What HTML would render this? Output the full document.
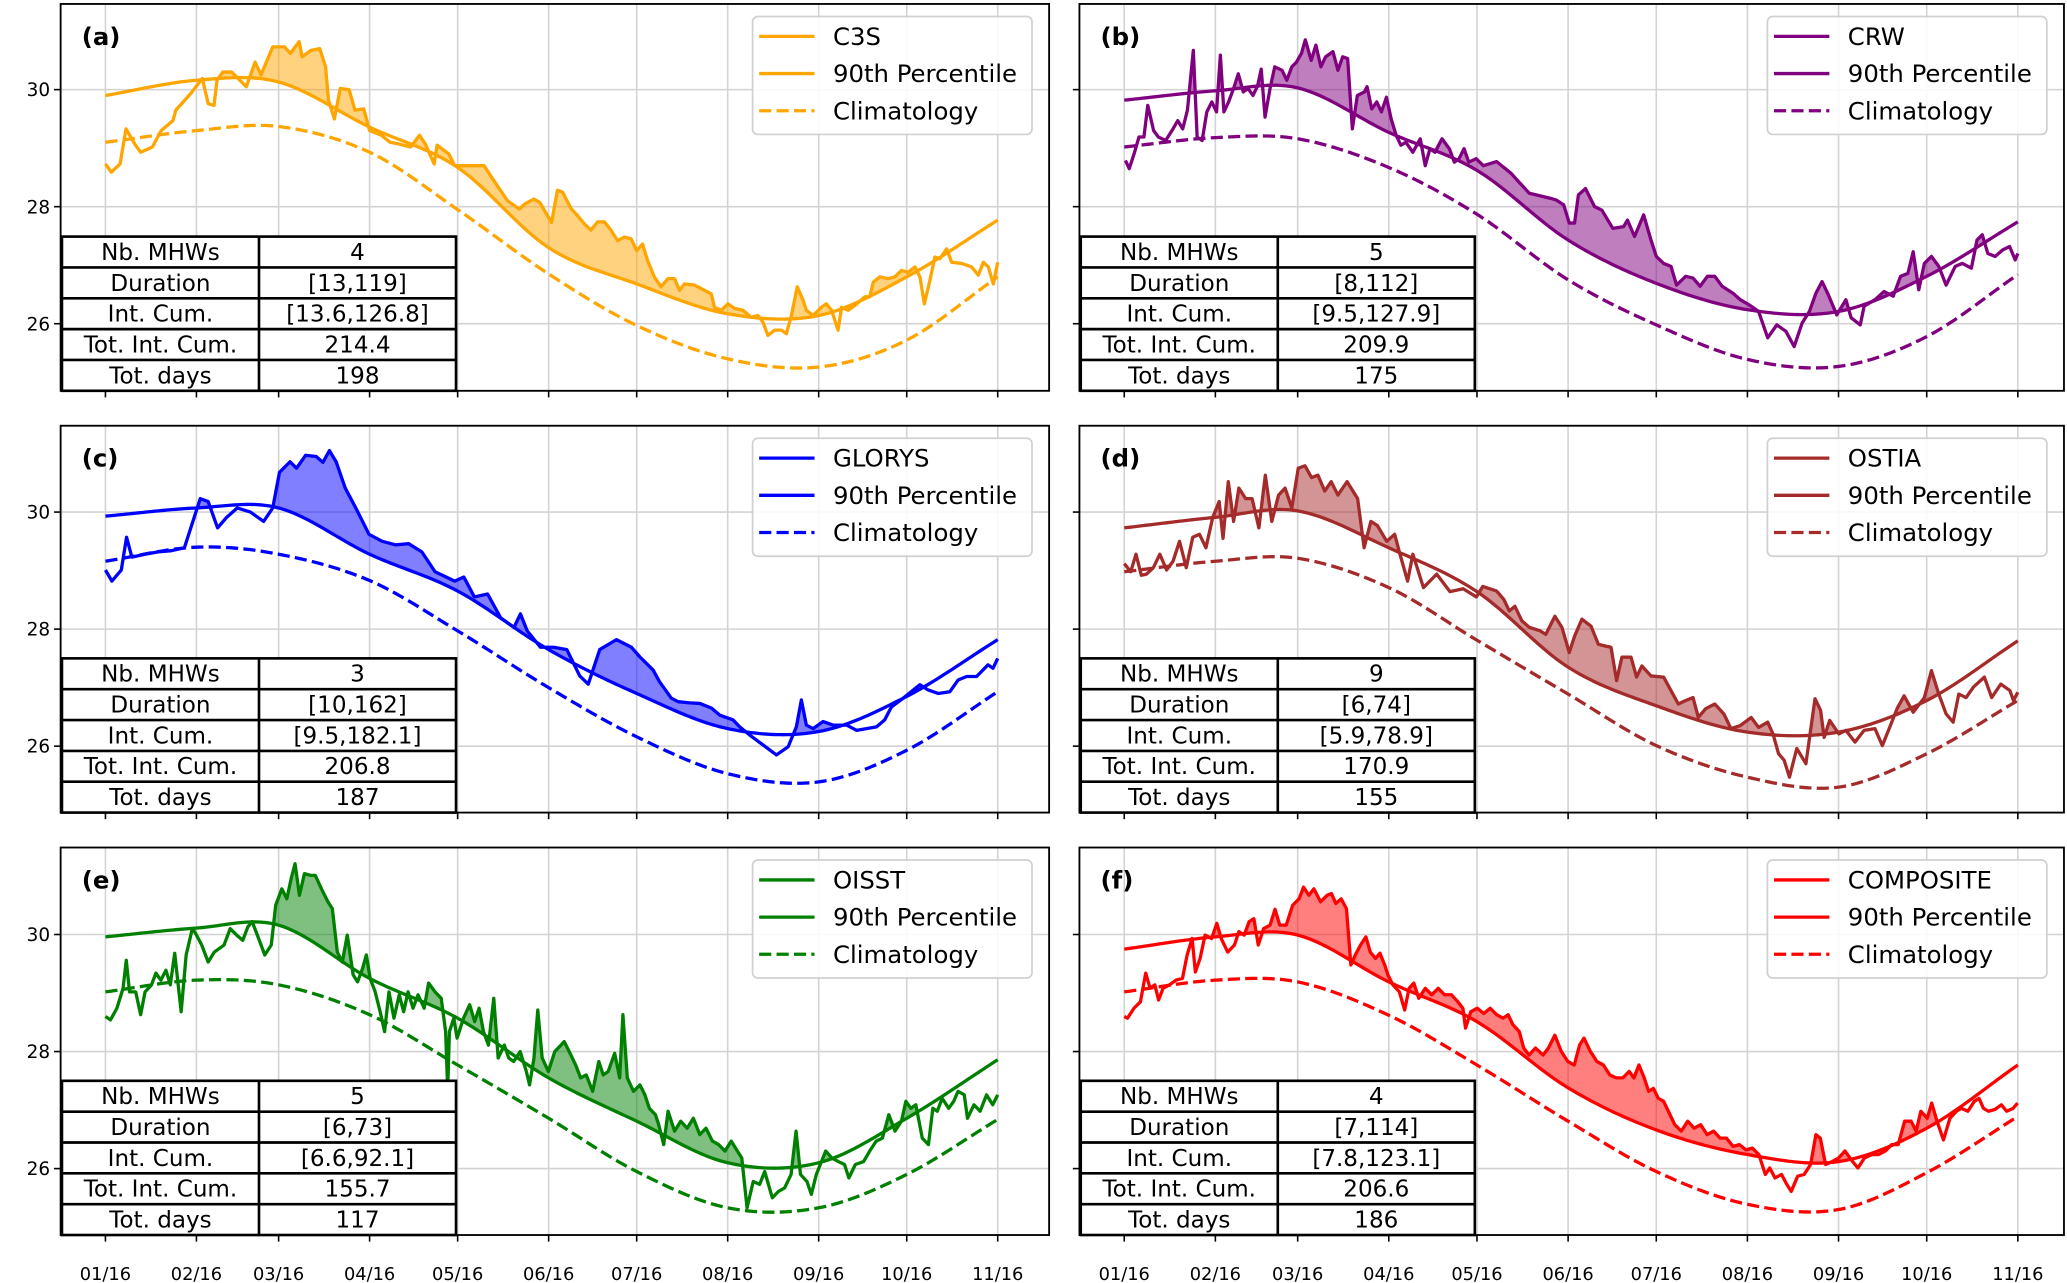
<!DOCTYPE html>
<html><head><meta charset="utf-8"><title>MHW panels</title>
<style>html,body{margin:0;padding:0;background:#fff;}svg{display:block;}text{font-family:"DejaVu Sans","Liberation Sans",sans-serif;}</style>
</head><body>
<svg id="chart" width="2067" height="1283" viewBox="0 0 1568.3 973.4" preserveAspectRatio="none" xmlns="http://www.w3.org/2000/svg"></svg>
<script>
const monthDays = [15,46,74,105,135,166,196,227,258,288,319];
const monthLabels = ['01/16','02/16','03/16','04/16','05/16','06/16','07/16','08/16','09/16','10/16','11/16'];
const yTickValues = [26,28,30];
const tableLabels = ['Nb. MHWs','Duration','Int. Cum.','Tot. Int. Cum.','Tot. days'];

const c3sDays = [15,17,20,22,25,27,31,34,38,39,44,48,50,52,53,55,58,63,66,68,72,76,78,81,82,85,88,90,91,93,95,98,100,103,105,109,112,115,119,122,124,127,128,132,134,138,144,147,152,156,158,161,163,167,169,170.7,173.6,175.8,178.1,180.4,182.7,185,187.2,189.5,191.8,194.1,196,198,199.7,202,204.3,206.6,208.9,210.6,212.3,215.7,219.1,221.4,222.5,224.8,227.1,229.4,232.2,235,237.3,239,240.7,243,245.3,247,248.7,250.7,252.7,253.8,256.1,258.9,260.6,262.4,264.6,265.8,268,270.3,273.7,275.4,276.6,278.8,281.7,283.9,286.2,288.5,290.8,292.5,294,295.9,297.6,299.3,301.6,303.3,306.7,310.1,312.4,314.1,315.8,317.5,319];
const c3sSST = [28.73,28.59,28.73,29.33,29.07,28.93,29.02,29.30,29.47,29.65,29.93,30.19,29.76,29.73,30.16,30.30,30.30,30.05,30.47,30.25,30.73,30.73,30.62,30.82,30.56,30.67,30.70,30.39,29.82,29.50,30.02,30.00,29.65,29.67,29.30,29.22,29.10,29.07,29.02,29.22,29.07,28.73,29.05,28.90,28.70,28.70,28.70,28.47,28.10,27.96,28.05,28.13,28.07,27.73,28.28,28.25,27.97,27.85,27.71,27.60,27.74,27.74,27.60,27.42,27.48,27.45,27.25,27.36,27.08,26.80,26.63,26.77,26.77,26.57,26.68,26.66,26.57,26.51,26.28,26.23,26.34,26.26,26.23,26.11,26.14,26.03,25.80,25.89,25.89,25.83,26.14,26.63,26.40,26.23,26.14,26.28,26.34,26.23,25.89,26.28,26.23,26.31,26.46,26.46,26.71,26.80,26.77,26.80,26.91,26.88,26.97,26.80,26.34,26.74,27.14,27.11,27.28,27.05,27.03,26.97,26.83,27.05,26.97,26.68,27.05];
const c3sP90 = [29.90,30.16,30.13,29.36,28.67,27.30,26.68,26.17,26.14,26.80,27.77];
const c3sClim = [29.10,29.30,29.37,28.93,27.95,26.85,25.97,25.40,25.26,25.72,26.80];
const c3sTable = ['4','[13,119]','[13.6,126.8]','214.4','198'];

const crwDays = [15.4,16.7,18.4,20.0,21.7,23.0,25.0,26.6,29.1,31.6,33.2,34.9,36.5,38.5,39.8,41.5,43.1,44.8,46.4,47.7,48.9,50.5,52.2,53.8,55.5,57.1,58.8,60.4,61.6,62.9,64.6,66.2,68.7,70.3,72.0,73.6,75.3,76.6,78.6,80.2,81.9,83.5,86.0,87.7,89.3,91.0,92.6,94.3,96.7,97.6,99.2,100.9,102.5,104.2,105.8,107.5,109.1,110.8,113.2,115.7,117.4,119.0,120.7,123.1,125.6,127.3,128.9,130.6,132.2,134.7,137.2,141.7,146.6,149.1,152.8,155.3,160.2,162.1,164.5,166.4,168.2,169.5,171.9,175,177.5,181.2,184.9,186.2,188.6,191.7,194.2,196,198.5,201,202.9,206,208.5,210.9,213.4,215.9,218.4,222.1,224.6,228.3,230.8,233.9,237,240.1,242.9,245.6,248.1,250.3,252.4,254.3,257.4,260.5,262.3,265.4,266.7,270.4,273.5,276.6,279.1,281.6,283.4,285.3,287.2,289.6,292.1,294.6,297.7,300.1,303.2,305.1,306.9,308.8,311.3,313.8,316.2,318.1,319];
const crwSST = [28.79,28.65,28.91,29.19,29.19,29.73,29.30,29.19,29.13,29.33,29.47,29.33,29.65,30.67,29.19,29.13,29.62,29.79,29.62,30.59,29.62,29.79,30.02,30.27,29.96,30.02,29.90,30.07,30.35,29.53,30.02,30.39,30.33,30.16,30.39,30.47,30.62,30.85,30.50,30.76,30.39,30.56,30.65,30.33,30.56,30.53,29.33,29.90,29.96,30.05,29.67,29.79,29.62,29.87,29.50,29.22,29.05,29.10,28.93,29.16,28.70,28.99,28.93,29.16,28.99,28.76,28.82,28.99,28.76,28.82,28.70,28.77,28.57,28.43,28.23,28.20,28.14,28.11,28.03,27.72,27.72,28.20,28.31,28.00,27.94,27.63,27.66,27.77,27.49,27.86,27.43,27.15,27.03,26.98,26.66,26.81,26.78,26.64,26.81,26.81,26.64,26.52,26.41,26.30,26.21,25.76,25.98,25.87,25.61,26.01,26.21,26.52,26.72,26.52,26.15,26.41,26.10,25.98,26.30,26.41,26.55,26.47,26.81,26.86,27.23,26.58,27.03,27.15,26.98,26.66,26.98,27.03,26.95,27.43,27.52,27.20,27.15,27.26,27.32,27.09,27.20];
const crwP90 = [29.82,29.98,30.03,29.27,28.62,27.43,26.69,26.24,26.21,26.81,27.74];
const crwClim = [29.02,29.18,29.16,28.67,27.87,26.75,25.98,25.39,25.27,25.78,26.84];
const crwTable = ['5','[8,112]','[9.5,127.9]','209.9','175'];

const glorysDays = [15,17.2,20.4,22.2,24,28.5,33,37.5,41.9,45.5,47.3,50,53.2,56.3,59.9,64.4,68.9,72,74.3,77.9,80.1,83.2,86.8,89.1,91.3,93.6,96.7,100.3,104.8,109.3,113.8,118.3,122.8,127.3,134,137.1,140.7,145.2,149.7,154.2,156.4,158.7,163.2,167.7,172.2,176.6,179.5,183.4,189.1,194.2,197,201.6,203.8,207.8,210.1,214.1,217.5,221.5,224.3,228.8,231.1,234.5,243.6,247.6,250.4,252.1,253.8,256.1,259.5,262.9,267.5,270.9,274.3,277.7,280.5,282.8,286.8,292.5,295.3,298.7,302.7,305.5,308.4,311.8,315.7,317.4,319];
const glorysSST = [29.01,28.82,29.01,29.57,29.23,29.28,29.32,29.34,29.39,29.95,30.23,30.18,29.73,29.91,30.07,30.00,29.84,30.07,30.68,30.86,30.75,30.97,30.95,30.85,31.05,30.86,30.41,30.07,29.62,29.50,29.44,29.46,29.32,28.98,28.82,28.89,28.55,28.60,28.19,28.03,28.26,27.97,27.69,27.69,27.65,27.20,27.06,27.65,27.82,27.69,27.53,27.30,27.10,26.82,26.76,26.74,26.73,26.65,26.53,26.45,26.33,26.19,25.85,25.99,26.33,26.79,26.36,26.30,26.42,26.36,26.36,26.27,26.30,26.33,26.45,26.67,26.82,27.05,26.96,26.90,26.93,27.13,27.19,27.19,27.39,27.33,27.50];
const glorysP90 = [29.93,30.07,30.07,29.28,28.65,27.65,26.90,26.30,26.25,26.85,27.82];
const glorysClim = [29.16,29.40,29.28,28.83,27.97,27.00,26.16,25.53,25.39,25.93,26.93];
const glorysTable = ['3','[10,162]','[9.5,182.1]','206.8','187'];

const ostiaDays = [15,17.2,19,20.8,22.6,24.9,27.1,29.4,31.6,33.8,36.1,38.3,40.6,42.8,45.1,47.3,48.6,50.4,52.2,54,56.3,58.5,60.8,63,65.2,67.5,69.7,72,74.2,76.5,78.7,80.9,83.2,85.4,87.7,90.8,94.4,96.6,98.9,101.1,104.3,107,108.8,111.4,113.2,116.8,121.3,125.8,130.3,134.8,137,141.7,144.1,146,147.9,150.3,152.8,156.5,158.4,161.5,163.9,166.4,168.2,170.7,173.8,176.3,178.8,180.6,182.5,184.3,187.4,189.3,191.1,194.2,198.5,201,203.5,206,208.5,210.3,212.8,215.9,219,221.4,224.5,228.3,230.8,233.9,235.7,237.6,239.5,241.3,243.8,246.9,250,251.9,253.1,255,258.1,260.5,263.6,266.7,270.4,272.9,275.4,277.9,280.3,283.4,287.2,289.6,292.1,294.6,297,298.9,301.4,303.9,307.6,310.1,313.2,316.3,317.5,319];
const ostiaSST = [29.12,28.98,29.28,28.92,28.94,29.05,29.28,29.01,29.16,29.50,29.05,29.57,29.62,29.39,29.91,30.18,29.55,30.52,29.84,30.41,30.23,30.23,29.73,30.63,29.84,30.29,30.41,30.07,30.75,30.79,30.59,30.63,30.36,30.52,30.29,30.52,30.23,29.39,29.84,29.77,29.50,29.62,29.28,28.82,29.28,28.71,28.94,28.64,28.69,28.55,28.73,28.65,28.51,28.31,28.39,28.14,28.03,27.97,27.91,28.22,28.03,27.60,27.88,28.17,28.05,27.74,27.71,27.69,27.12,27.52,27.52,27.18,27.37,27.20,27.18,26.95,26.72,26.78,26.83,26.49,26.64,26.72,26.55,26.30,26.35,26.49,26.32,26.41,26.21,25.87,25.76,25.47,25.96,25.70,26.81,26.61,26.15,26.44,26.21,26.27,26.07,26.27,26.30,26.01,26.32,26.64,26.86,26.58,26.83,27.29,26.89,26.55,26.41,26.89,26.83,27.01,27.18,26.83,27.06,26.95,26.78,26.92];
const ostiaP90 = [29.73,29.91,30.02,29.39,28.64,27.35,26.69,26.24,26.24,26.78,27.80];
const ostiaClim = [28.98,29.16,29.21,28.71,27.81,26.89,26.01,25.47,25.30,25.87,26.78];
const ostiaTable = ['9','[6,74]','[5.9,78.9]','170.9','155'];

const oisstDays = [15,16.7,18.9,21,22.1,23.2,25.3,27,28.5,30.7,32.2,33.9,35.6,37.1,38.6,39.3,40.8,42.5,44.6,45.7,47.8,50,52.1,55.4,57.5,59.7,61.8,63.5,65,67.2,69.3,71.5,73,75.1,76.8,78.3,79.6,81.1,82.8,85,86.5,88.6,90.8,92.3,94,95.7,97.4,99.4,100.9,102.6,103.9,105.2,106.9,108.6,110.1,111.6,113.3,115.1,116.6,118.1,119.8,121.5,123.6,125.1,127.3,129.4,130.9,131.6,132.2,133.7,134.8,137,139.1,140.8,142.3,143.8,145.5,147.3,148.8,150.9,152.4,154.1,156.3,158.4,159.5,161,162.3,163.8,165.9,168.1,170.2,171.3,173,175.2,176.9,178.8,181,183.1,184.6,186.3,188.5,190.2,191.3,192.8,194.9,197.1,198.8,200.3,202.4,203.5,205.2,206.7,208.9,211,213.2,215.3,217.5,219.6,221.8,223.9,226.1,228.2,230.3,231.8,233.6,235.7,237.9,239.6,242.2,244.3,246.4,248.6,250.3,251.8,254,255.5,257.2,260.4,262.5,264.7,266.8,268.3,270.5,273.3,275.4,277.6,279.7,281.9,284,286.2,287.7,289.4,291.1,293.3,295.4,296.9,298.4,300.1,302.3,304,305.5,307.6,308.7,310.9,313,315.2,317.3,319];
const oisstSST = [28.60,28.54,28.74,29.08,29.56,29.02,29.02,28.63,29.02,29.14,29.34,29.22,29.39,29.14,29.68,29.36,28.68,29.65,30.10,30.02,29.82,29.53,29.70,29.82,30.10,29.99,29.90,30.13,30.22,29.93,29.65,29.82,30.50,30.78,30.61,30.96,31.21,30.67,31.04,31.01,31.01,30.78,30.56,30.44,29.70,29.53,29.99,29.31,29.19,29.42,29.65,29.25,29.02,28.68,28.34,29.02,28.57,28.97,28.68,29.02,28.74,28.97,28.74,29.17,29.02,28.91,28.34,27.35,28.34,28.57,28.23,28.57,28.80,28.51,28.74,28.34,28.11,28.91,27.89,28.11,27.89,27.83,28.00,27.66,27.43,27.89,28.71,27.89,27.66,28.00,28.11,28.17,28.00,27.77,27.55,27.60,27.32,27.83,27.60,27.66,27.97,27.55,28.63,27.55,27.32,27.43,27.26,27.03,26.92,26.75,26.41,26.98,26.64,26.81,26.69,26.86,26.58,26.69,26.47,26.41,26.30,26.47,26.30,26.18,25.33,25.78,25.73,25.95,25.50,25.61,25.67,25.90,26.64,25.90,25.78,25.56,25.90,26.30,26.18,26.12,26.07,25.84,26.07,26.12,26.30,26.47,26.52,26.92,26.64,26.81,27.15,27.03,27.09,26.52,26.41,27.03,26.98,27.20,27.03,27.15,27.32,27.26,26.86,27.09,26.98,27.26,27.09,27.26];
const oisstP90 = [29.96,30.11,30.16,29.25,28.57,27.55,26.81,26.10,26.10,26.86,27.86];
const oisstClim = [29.02,29.22,29.14,28.63,27.77,26.86,25.95,25.33,25.33,25.90,26.84];
const oisstTable = ['5','[6,73]','[6.6,92.1]','155.7','117'];

const compDays = [15,16.1,18.3,20.5,22.3,23.8,25.4,26.7,28.2,30.4,32.6,34.8,36.4,38.1,39.2,40.8,42.5,44.7,46.5,48,50.2,52.5,54,55.8,57.5,59.1,60.6,62.4,64.6,66.3,67.9,70.1,72.3,74.5,76,77.8,79.5,81.8,84,85.5,87,88.8,90.6,92.1,93.6,95.4,97.2,98.7,100.5,102,103.6,104.7,106.4,108.6,110.4,111.9,113.5,115.2,117.4,119.6,121.8,124,126.3,128.5,130.2,131.1,132.9,135.1,137.3,139.5,141.7,143.9,145.6,147.2,149.4,150.9,152.7,154.9,157.5,159.3,161.5,163.7,165.9,168.1,169.9,171.4,173.6,175.8,178,180.2,182.4,184.6,186.8,188.4,190.1,191.9,193.4,195,196.7,198.5,200.1,202.3,204.5,206.7,208.9,211.1,213.3,215.5,217.7,219.9,222.1,224.3,226.5,228.7,230.9,232,233.1,234.6,236.4,238.6,240.4,241.9,244.1,246.3,248.5,250.3,251.8,253.6,255.8,258,260.2,262.8,264.6,266.8,269.4,271.6,273.9,276.1,278.3,280.5,282.7,284.4,286,288.2,289.7,291.5,293.7,295.9,298.1,299.8,302,304.2,305.8,307.3,309,311.2,313.4,315.2,317.4,318.9];
const compSST = [28.60,28.57,28.74,28.85,29.34,29.08,29.14,28.88,29.08,29.14,29.22,29.25,29.65,29.93,29.36,29.59,29.99,29.93,30.19,29.93,29.70,29.82,30.05,29.99,30.22,30.27,29.82,30.10,30.16,30.43,30.16,30.16,30.50,30.61,30.81,30.67,30.78,30.56,30.67,30.70,30.53,30.61,30.44,29.48,29.65,29.82,29.96,29.70,29.59,29.68,29.48,29.31,29.14,29.02,28.71,29.08,29.17,28.91,29.08,28.97,29.08,28.97,28.97,28.85,28.74,28.40,28.68,28.74,28.65,28.74,28.63,28.57,28.63,28.46,28.34,28.06,27.94,28.06,27.94,28.06,28.28,28.00,27.83,27.77,28.11,28.23,28.00,27.83,27.77,27.60,27.55,27.55,27.66,27.55,27.77,27.55,27.32,27.37,27.20,27.15,26.98,26.75,26.64,26.81,26.69,26.75,26.58,26.64,26.52,26.52,26.38,26.41,26.32,26.35,26.24,26.07,25.90,26.01,25.84,25.90,25.73,25.61,25.87,25.90,26.07,26.58,26.52,26.07,26.12,26.18,26.30,26.12,26.01,26.18,26.24,26.24,26.30,26.41,26.41,26.81,26.81,26.64,26.98,26.86,27.12,26.81,26.49,26.86,26.98,27.03,26.98,27.15,27.20,27.03,26.98,27.01,27.09,26.98,27.03,27.12];
const compP90 = [29.75,29.96,29.99,29.19,28.51,27.38,26.66,26.24,26.12,26.69,27.77];
const compClim = [29.02,29.22,29.19,28.62,27.77,26.81,25.95,25.39,25.30,25.93,26.89];
const compTable = ['4','[7,114]','[7.8,123.1]','206.6','186'];

const panels = [
  {tag:'a', name:'C3S', color:'#ffa500', col:0, row:0, days:c3sDays, sst:c3sSST, p90:c3sP90, clim:c3sClim, table:c3sTable},
  {tag:'b', name:'CRW', color:'#800080', col:1, row:0, days:crwDays, sst:crwSST, p90:crwP90, clim:crwClim, table:crwTable},
  {tag:'c', name:'GLORYS', color:'#0000ff', col:0, row:1, days:glorysDays, sst:glorysSST, p90:glorysP90, clim:glorysClim, table:glorysTable},
  {tag:'d', name:'OSTIA', color:'#a52a2a', col:1, row:1, days:ostiaDays, sst:ostiaSST, p90:ostiaP90, clim:ostiaClim, table:ostiaTable},
  {tag:'e', name:'OISST', color:'#008000', col:0, row:2, days:oisstDays, sst:oisstSST, p90:oisstP90, clim:oisstClim, table:oisstTable},
  {tag:'f', name:'COMPOSITE', color:'#ff0000', col:1, row:2, days:compDays, sst:compSST, p90:compP90, clim:compClim, table:compTable}
];

const NS = 'http://www.w3.org/2000/svg';
const svg = document.getElementById('chart');
const COLS = [{x0:46,x1:796,t0:80,t1:757},{x0:819,x1:1566,t0:853,t1:1531}];
const ROWS = [{y0:3,y1:296.5,y30:68},{y0:323,y1:616.5,y30:388.5},{y0:643,y1:937,y30:709}];
const UNIT = 44.4;

function mk(tag, attrs, parent){
  const e = document.createElementNS(NS, tag);
  for (const k in attrs) e.setAttribute(k, attrs[k]);
  (parent||svg).appendChild(e);
  return e;
}
function hermite(xs, ys, x){
  const n = xs.length;
  let i = 0;
  while (i < n-2 && x > xs[i+1]) i++;
  const slope = k => k===0 ? (ys[1]-ys[0])/(xs[1]-xs[0]) : k===n-1 ? (ys[n-1]-ys[n-2])/(xs[n-1]-xs[n-2]) : (ys[k+1]-ys[k-1])/(xs[k+1]-xs[k-1]);
  const h = xs[i+1]-xs[i], t = (x-xs[i])/h;
  const m0 = slope(i)*h, m1 = slope(i+1)*h;
  const t2=t*t, t3=t2*t;
  return (2*t3-3*t2+1)*ys[i] + (t3-2*t2+t)*m0 + (-2*t3+3*t2)*ys[i+1] + (t3-t2)*m1;
}

panels.forEach((p, idx) => {
  const C = COLS[p.col], R = ROWS[p.row];
  const xS = d => C.t0 + (d-15)*(C.t1-C.t0)/304;
  const yS = v => R.y30 + (30-v)*UNIT;
  const g = mk('g', {});
  
  

  monthDays.forEach(d => {
    const gl = mk('line', {x1:xS(d), x2:xS(d), y1:R.y0, y2:R.y1, stroke:'#d3d3d3', 'stroke-width':1.2}, g);
    
    
    const tk = mk('line', {x1:xS(d), x2:xS(d), y1:R.y1, y2:R.y1+5, stroke:'#000', 'stroke-width':1.2}, g);
    
    
  });
  yTickValues.forEach(v => {
    const gl = mk('line', {x1:C.x0, x2:C.x1, y1:yS(v), y2:yS(v), stroke:'#d3d3d3', 'stroke-width':1.2}, g);
    
    
    const tk = mk('line', {x1:C.x0-5, x2:C.x0, y1:yS(v), y2:yS(v), stroke:'#000', 'stroke-width':1.2}, g);
    
    
    if (p.col === 0) {
      const tl = mk('text', {x:C.x0-8, y:yS(v)+5, 'text-anchor':'end', 'font-size':14}, g);
      tl.textContent = String(v);
      
      
    }
  });
  if (p.row === 2) {
    monthDays.forEach((d, i) => {
      const tl = mk('text', {x:xS(d), y:R.y1+34, 'text-anchor':'middle', 'font-size':13.5}, g);
      tl.textContent = monthLabels[i];
      
      
    });
  }

  const pPts = [], cPts = [];
  for (let d = 15; d <= 319; d += 1) {
    pPts.push([xS(d), yS(hermite(monthDays, p.p90, d))]);
    cPts.push([xS(d), yS(hermite(monthDays, p.clim, d))]);
  }
  const sPts = p.days.map((d, i) => [xS(d), yS(p.sst[i])]);
  const toD = pts => pts.map((q, i) => (i ? 'L' : 'M') + q[0].toFixed(2) + ',' + q[1].toFixed(2)).join('');

  const cp = mk('clipPath', {id:'above-' + p.tag}, g);
  mk('path', {d: toD(pPts) + 'L' + (C.x1) + ',' + pPts[pPts.length-1][1] + 'L' + C.x1 + ',' + R.y0 + 'L' + C.x0 + ',' + R.y0 + 'L' + C.x0 + ',' + pPts[0][1] + 'Z'}, cp);
  const fill = mk('path', {d: toD(sPts) + 'L' + sPts[sPts.length-1][0] + ',' + R.y1 + 'L' + sPts[0][0] + ',' + R.y1 + 'Z', fill:p.color, 'fill-opacity':0.5, 'clip-path':'url(#above-' + p.tag + ')'}, g);
  
  

  const pl = mk('path', {d:toD(pPts), fill:'none', stroke:p.color, 'stroke-width':2.5}, g);
  
  
  const cl = mk('path', {d:toD(cPts), fill:'none', stroke:p.color, 'stroke-width':2.5, 'stroke-dasharray':'9.2,4'}, g);
  
  
  const sl = mk('path', {d:toD(sPts), fill:'none', stroke:p.color, 'stroke-width':2.5, 'stroke-linejoin':'round'}, g);
  
  

  const tg = mk('g', {}, g);
  
  
  const tx0 = C.x0 + 1, tw = 149.5, rh = 23.4, ty0 = R.y1 - 5*rh;
  mk('rect', {x:tx0, y:ty0, width:2*tw, height:5*rh, fill:'#fff', stroke:'#000', 'stroke-width':2}, tg);
  mk('line', {x1:tx0+tw, x2:tx0+tw, y1:ty0, y2:R.y1, stroke:'#000', 'stroke-width':2}, tg);
  tableLabels.forEach((lab, i) => {
    if (i > 0) mk('line', {x1:tx0, x2:tx0+2*tw, y1:ty0+i*rh, y2:ty0+i*rh, stroke:'#000', 'stroke-width':2}, tg);
    const t1 = mk('text', {x:tx0+tw/2, y:ty0+i*rh+rh/2+6, 'text-anchor':'middle', 'font-size':17.5}, tg);
    t1.textContent = lab;
    
    
    const t2 = mk('text', {x:tx0+1.5*tw, y:ty0+i*rh+rh/2+6, 'text-anchor':'middle', 'font-size':17.5}, tg);
    t2.textContent = p.table[i];
    
    
  });

  const lg = mk('g', {}, g);
  
  
  mk('rect', {x:C.x1-225, y:R.y0+9.5, width:212, height:89.5, rx:4, fill:'#fff', 'fill-opacity':0.85, stroke:'#d0d0d0', 'stroke-width':1.3}, lg);
  const entries = [[p.name, null], ['90th Percentile', null], ['Climatology', '9.2,4']];
  entries.forEach((en, i) => {
    const ey = R.y0 + 24.6 + i*28.2;
    const ln = mk('line', {x1:C.x1-220, x2:C.x1-178, y1:ey, y2:ey, stroke:p.color, 'stroke-width':2.5}, lg);
    if (en[1]) ln.setAttribute('stroke-dasharray', en[1]);
    
    
    const lt = mk('text', {x:C.x1-164, y:ey+6.5, 'font-size':18.5}, lg);
    lt.textContent = en[0];
    
    
  });

  const pl2 = mk('text', {x:C.x0+16, y:R.y0+31, 'font-size':18.5, 'font-weight':'bold'}, g);
  pl2.textContent = '(' + p.tag + ')';
  
  
  const fr = mk('rect', {x:C.x0, y:R.y0, width:C.x1-C.x0, height:R.y1-R.y0, fill:'none', stroke:'#000', 'stroke-width':1.4}, g);
  
  
});
</script>
</body></html>
